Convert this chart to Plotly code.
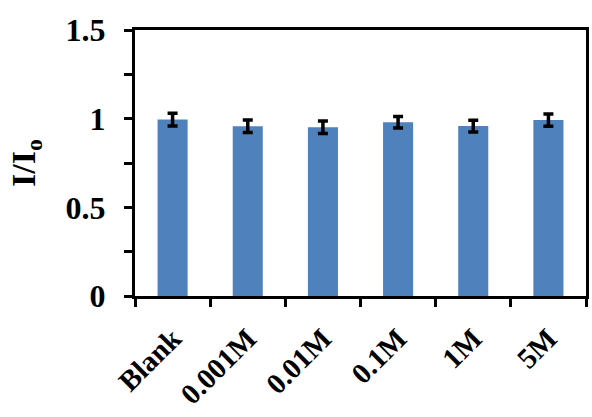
import plotly.graph_objects as go

categories = ["Blank", "0.001M", "0.01M", "0.1M", "1M", "5M"]
values = [0.995, 0.957, 0.952, 0.980, 0.958, 0.992]
errors = [0.036, 0.035, 0.035, 0.032, 0.033, 0.035]
y_ticks = [0, 0.5, 1, 1.5]
y_tick_labels = ["0", "0.5", "1", "1.5"]

FONT = "Liberation Serif"

fig = go.Figure()
fig.add_trace(go.Bar(
    x=categories,
    y=values,
    width=0.4,
    marker=dict(color="#4F81BD", line=dict(width=0)),
    error_y=dict(type="data", array=errors, visible=True,
                 color="black", thickness=3.5, width=5),
))

fig.update_layout(
    width=592, height=417,
    margin=dict(l=135, r=6, t=30, b=121, autoexpand=False),
    paper_bgcolor="white", plot_bgcolor="white",
    showlegend=False,
    font=dict(family=FONT, size=32, color="black"),
)

fig.update_xaxes(
    type="category",
    showline=True, linecolor="black", linewidth=3, mirror=True,
    ticks="outside", tickson="boundaries", ticklen=8, tickwidth=3, tickcolor="black",
    tickangle=-45,
    tickfont=dict(family=FONT, size=29, color="black", weight="bold"),
    ticklabelstandoff=11,
    showgrid=False, zeroline=False,
)

fig.update_yaxes(
    range=[0, 1.5],
    tickvals=y_ticks, ticktext=y_tick_labels,
    showline=True, linecolor="black", linewidth=3, mirror=True,
    ticks="outside", ticklen=8, tickwidth=3, tickcolor="black",
    minor=dict(dtick=0.25, ticks="outside", ticklen=8, tickwidth=3, tickcolor="black", showgrid=False),
    tickfont=dict(family=FONT, size=32, color="black", weight="bold"),
    ticklabelstandoff=12,
    showgrid=False, zeroline=False,
    title=dict(text="<b>I/I<sub>o</sub></b>", font=dict(family=FONT, size=34, color="black"), standoff=20),
)

fig.write_html("out.html")
